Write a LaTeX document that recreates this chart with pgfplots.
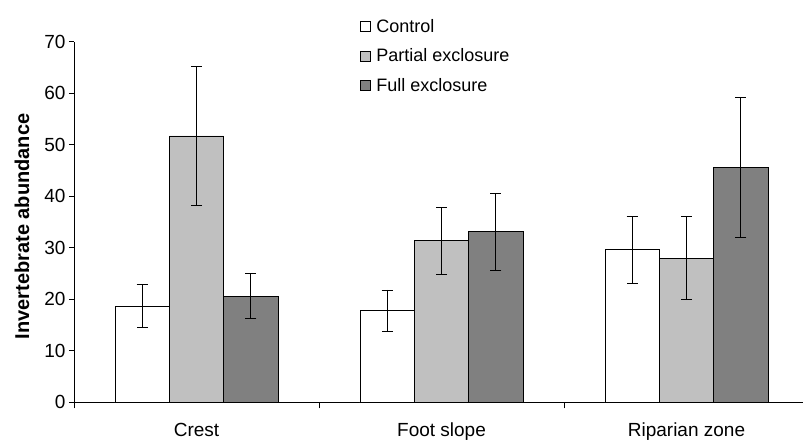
\documentclass[border=0pt]{standalone}
\usepackage{pgfplots}
\pgfplotsset{compat=1.18}
\usepackage{fontspec}
\setmainfont{Liberation Sans}
\definecolor{lgray}{HTML}{C0C0C0}
\definecolor{dgray}{HTML}{808080}
\begin{document}
\begin{tikzpicture}
\begin{axis}[
  at={(0pt,0pt)}, anchor=south west,
  scale only axis, width=729pt, height=360.6pt,
  xmin=-0.5, xmax=2.4755, ymin=0, ymax=70,
  axis x line=bottom, axis y line=left,
  axis line style={-, black, line width=0.8pt},
  /pgf/number format/assume math mode=true,
  ytick={0,10,...,70},
  xtick={0,1,2},
  xticklabels={Crest, Foot slope, Riparian zone},
  minor xtick={-0.5,0.5,1.5},
  tick align=outside,
  major tick length=5pt,
  minor tick length=6pt,
  major x tick style={draw=none},
  minor x tick style={black, line width=0.8pt},
  y tick style={black, line width=0.8pt},
  ticklabel style={font=\fontsize{19}{22}\selectfont},
  xticklabel style={yshift=-12pt},
  ylabel={\textbf{Invertebrate abundance}},
  ylabel style={font=\fontsize{20}{24}\selectfont, at={(axis description cs:-0.0713,0.4875)}, anchor=center},
  ybar, bar width=0.222,
  error bars/y dir=both, error bars/y explicit,
  error bars/error bar style={line width=0.9pt, black},
  error bars/error mark options={rotate=90, mark size=5.5pt, line width=0.9pt, black},
  legend style={draw=none, fill=none, inner sep=0pt, outer sep=0pt,
    at={(axis description cs:0.3918,0.9605)}, anchor=west,
    font=\fontsize{18}{21}\selectfont, row sep=15pt, column sep=6pt,
    nodes={inner sep=0pt}},
  legend cell align=left,
]
\addplot[bar shift=-0.222, fill=white, draw=black, line width=0.8pt,
  legend image code/.code={\draw[fill=white, draw=black, line width=0.8pt] (0pt,-5pt) rectangle (10pt,5pt);}]
  coordinates {(0,18.7) +- (0,4.25) (1,17.8) +- (0,4.0) (2,29.6) +- (0,6.5)};
\addlegendentry{Control}
\addplot[bar shift=0, fill=lgray, draw=black, line width=0.8pt,
  legend image code/.code={\draw[fill=lgray, draw=black, line width=0.8pt] (0pt,-5pt) rectangle (10pt,5pt);}]
  coordinates {(0,51.7) +- (0,13.45) (1,31.4) +- (0,6.5) (2,28.0) +- (0,8.05)};
\addlegendentry{Partial exclosure}
\addplot[bar shift=0.222, fill=dgray, draw=black, line width=0.8pt,
  legend image code/.code={\draw[fill=dgray, draw=black, line width=0.8pt] (0pt,-5pt) rectangle (10pt,5pt);}]
  coordinates {(0,20.6) +- (0,4.35) (1,33.1) +- (0,7.45) (2,45.6) +- (0,13.55)};
\addlegendentry{Full exclosure}
\end{axis}
\pgfresetboundingbox
\path (-74pt,-39.7pt) rectangle (729pt,402.3pt);
\end{tikzpicture}
\end{document}
